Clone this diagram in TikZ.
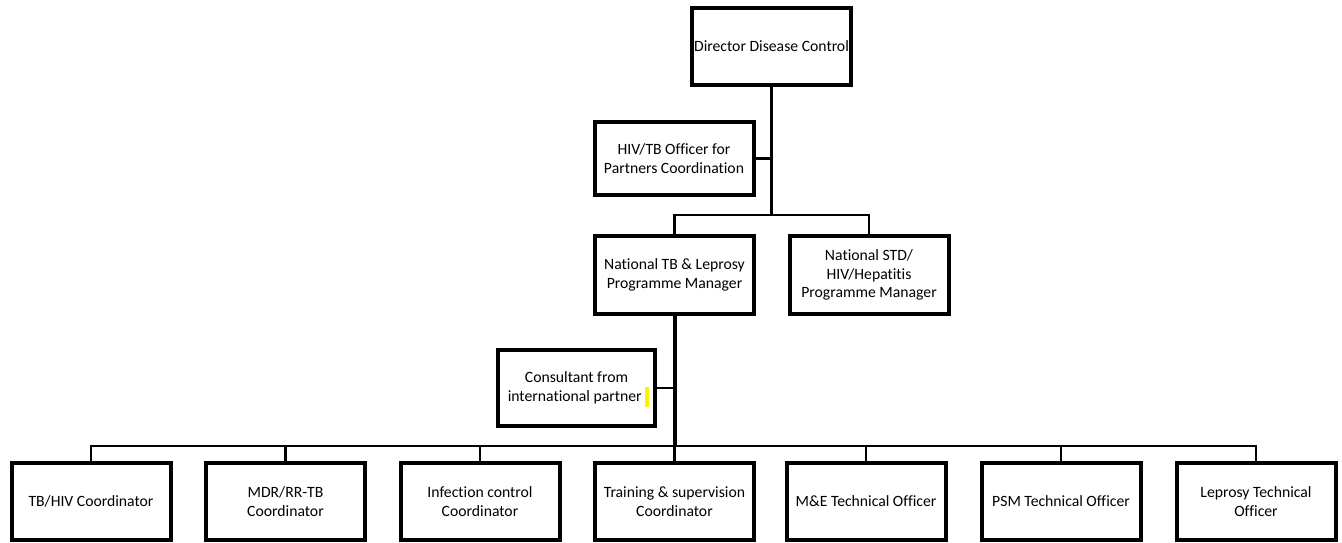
\documentclass[tikz,border=0pt]{standalone}
\usepackage{fontspec}
\setmainfont{Carlito}[Ligatures=NoCommon]
\begin{document}
\begin{tikzpicture}[x=1pt,y=-1pt,
  post/.style={draw,line width=4pt,align=center,inner sep=2pt,
    minimum width=159pt,minimum height=77.5pt,
    font=\fontsize{15.7}{18.5}\selectfont},
  link/.style={line width=2.2pt},
  trunk/.style={line width=4pt}]
\useasboundingbox (0,0) rectangle (1342,542);
% top of the chart
\node [post] (dir) at (771.5,46.5) {Director Disease Control};
\node [post,minimum height=73.5pt] (officer) at (674,158.5) {HIV/TB Officer for\\Partners Coordination};
\node [post] (ntb) at (674.5,275) {National TB \& Leprosy\\Programme Manager};
\node [post] (nstd) at (869,275) {National STD/\\HIV/Hepatitis\\Programme Manager};
\node [post,minimum width=157pt,minimum height=76.5pt] (cons) at (576.5,388) {Consultant from\\international partner\phantom{l}};
\fill [yellow] (645,387) rectangle (649,407);
% staff row
\node [post] (b1) at (91,501.5) {TB/HIV Coordinator};
\node [post] (b2) at (285.5,501.5) {MDR/RR-TB\\Coordinator};
\node [post] (b3) at (480,501.5) {Infection control\\Coordinator};
\node [post] (b4) at (674.5,501.5) {Training \& supervision\\Coordinator};
\node [post] (b5) at (866,501.5) {M\&E Technical Officer};
\node [post] (b6) at (1061,501.5) {PSM Technical Officer};
\node [post] (b7) at (1256,501.5) {Leprosy Technical\\Officer};
% connectors
\coordinate (j1) at (771.5,215);
\coordinate (j2) at (674.5,446);
\draw [link] (dir.south) -- (j1);
\draw [link] (officer.east) -- (officer.east -| j1);
\draw [link] (ntb.north) |- (j1) -| (nstd.north);
\draw [trunk] (ntb.south) -- (j2);
\draw [link] (cons.east) -- (cons.east -| j2);
\draw [link] (b1.north) |- (j2) -| (b7.north);
\foreach \i in {2,...,6}
  \draw [link] (b\i.north) -- (b\i.north |- j2);
\end{tikzpicture}
\end{document}
